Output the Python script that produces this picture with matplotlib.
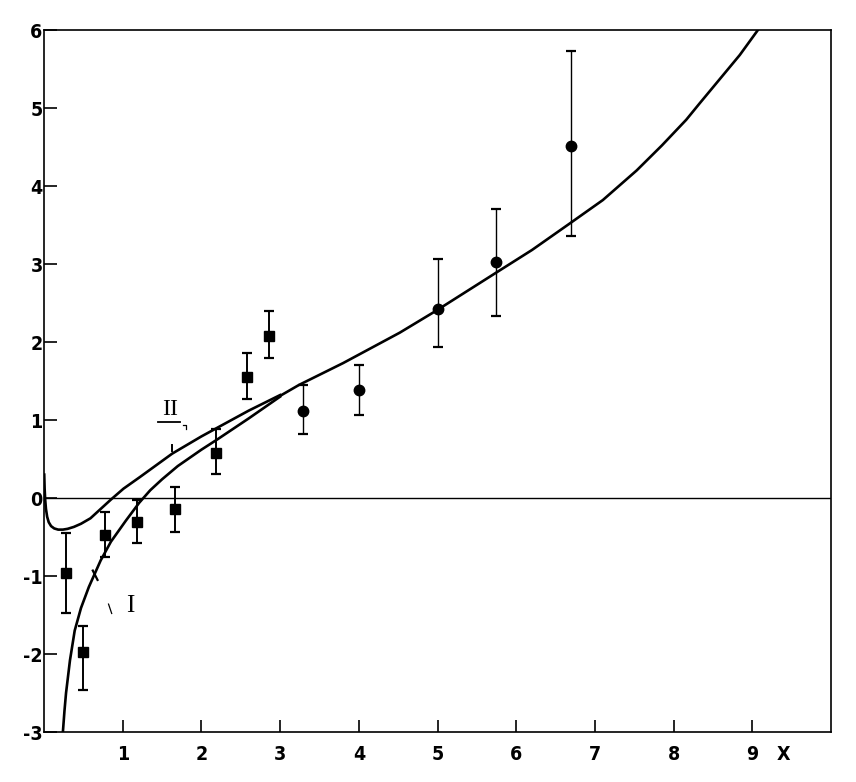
import matplotlib
matplotlib.use("Agg")
import matplotlib.pyplot as plt

# ================= DATA =================
# squares (low x) with error bars
sq_x = [0.28, 0.49, 0.77, 1.18, 1.67, 2.19, 2.58, 2.86]
sq_y = [-0.96, -1.98, -0.48, -0.31, -0.14, 0.58, 1.55, 2.08]
sq_hi = [-0.45, -1.64, -0.18, -0.02, 0.14, 0.88, 1.86, 2.40]
sq_lo = [-1.48, -2.46, -0.75, -0.58, -0.44, 0.31, 1.27, 1.79]

# circles (high x) with error bars
ci_x = [3.29, 4.0, 5.0, 5.74, 6.69]
ci_y = [1.12, 1.38, 2.42, 3.03, 4.51]
ci_hi = [1.45, 1.71, 3.07, 3.71, 5.73]
ci_lo = [0.82, 1.06, 1.94, 2.33, 3.36]

# curve I (lower branch at small x)
c1_x = [0.235, 0.24, 0.26, 0.28, 0.33, 0.39, 0.47, 0.57, 0.72, 0.85, 1.04,
        1.21, 1.35, 1.5, 1.7, 2.0, 2.2, 2.6, 3.0]
c1_y = [-3.1, -3.0, -2.73, -2.5, -2.08, -1.7, -1.41, -1.14, -0.8, -0.56,
        -0.29, -0.06, 0.1, 0.24, 0.41, 0.62, 0.75, 1.02, 1.3]

# curve II (upper branch with the dip near x=0)
c2_x = [0.003, 0.008, 0.015, 0.025, 0.04, 0.06, 0.09, 0.13, 0.18, 0.24,
        0.3, 0.38, 0.47, 0.59, 0.72, 0.85, 1.01, 1.22, 1.63, 2.0, 2.2,
        2.6, 3.0]
c2_y = [0.3, 0.12, -0.02, -0.14, -0.24, -0.31, -0.36, -0.39, -0.405, -0.405,
        -0.395, -0.37, -0.33, -0.26, -0.14, -0.02, 0.12, 0.27, 0.57, 0.79,
        0.9, 1.12, 1.32]

# common part of both curves
tail_x = [3.0, 3.24, 3.8, 4.52, 4.98, 5.73, 6.2, 6.68, 7.1, 7.53, 7.85,
          8.16, 8.33, 8.84, 9.07, 9.12]
tail_y = [1.31, 1.45, 1.73, 2.12, 2.4, 2.88, 3.18, 3.52, 3.82, 4.2, 4.52,
          4.85, 5.06, 5.68, 6.0, 6.07]

x_ticks = [1, 2, 3, 4, 5, 6, 7, 8, 9]
y_ticks = [-3, -2, -1, 0, 1, 2, 3, 4, 5, 6]

# ================= PLOT =================
plt.rcParams['font.family'] = ['DejaVu Sans']
plt.rcParams['font.stretch'] = 'condensed'
plt.rcParams['font.weight'] = 'bold'
plt.rcParams['axes.unicode_minus'] = False

fig = plt.figure(figsize=(8.56, 7.82), dpi=100)
ax = fig.add_axes([0.0514, 0.0639, 0.9195, 0.8977])

ax.axhline(0, color="black", lw=1.0, zorder=1)

ax.plot(c1_x, c1_y, color="black", lw=1.9, zorder=2)
ax.plot(c2_x, c2_y, color="black", lw=1.9, zorder=2)
ax.plot(tail_x, tail_y, color="black", lw=1.9, zorder=2)

sq_err = [[y - lo for y, lo in zip(sq_y, sq_lo)],
          [hi - y for y, hi in zip(sq_y, sq_hi)]]
ci_err = [[y - lo for y, lo in zip(ci_y, ci_lo)],
          [hi - y for y, hi in zip(ci_y, ci_hi)]]

ax.errorbar(sq_x, sq_y, yerr=sq_err, fmt="s", color="black", ms=6.5,
            elinewidth=1.4, capsize=3.6, capthick=1.6, zorder=3)
ax.errorbar(ci_x, ci_y, yerr=ci_err, fmt="o", color="black", ms=7.5,
            elinewidth=1.0, capsize=3.6, capthick=1.6, zorder=3)

# curve labels and the little marks next to them
ax.text(1.6, 1.13, "II", family="Liberation Serif", fontsize=17,
        fontweight="normal", ha="center", va="center")
ax.plot([1.45, 1.73], [0.97, 0.97], color="black", lw=1.3)
ax.plot([1.76, 1.8, 1.8], [0.94, 0.94, 0.88], color="black", lw=0.9)
ax.plot([1.63, 1.63], [0.6, 0.68], color="black", lw=1.4)
ax.text(1.1, -1.38, "I", family="Liberation Serif", fontsize=18,
        fontweight="normal", ha="center", va="center")
ax.plot([0.82, 0.86], [-1.36, -1.48], color="black", lw=0.9)
ax.plot([0.62, 0.68], [-0.93, -1.05], color="black", lw=1.6)

ax.set_xlim(0, 10)
ax.set_ylim(-3, 6)
ax.set_xticks(x_ticks)
ax.set_yticks(y_ticks)
ax.tick_params(axis="both", direction="in", length=9, width=1.2,
               labelsize=14)
ax.tick_params(axis="x", pad=9)
ax.tick_params(axis="y", pad=1)
ax.annotate("X", xy=(9.4, 0), xycoords=("data", "axes fraction"),
            xytext=(0, -9), textcoords="offset points", ha="center",
            va="top", fontsize=14)

for s in ax.spines.values():
    s.set_linewidth(1.2)

fig.savefig("out.png", dpi=100)
